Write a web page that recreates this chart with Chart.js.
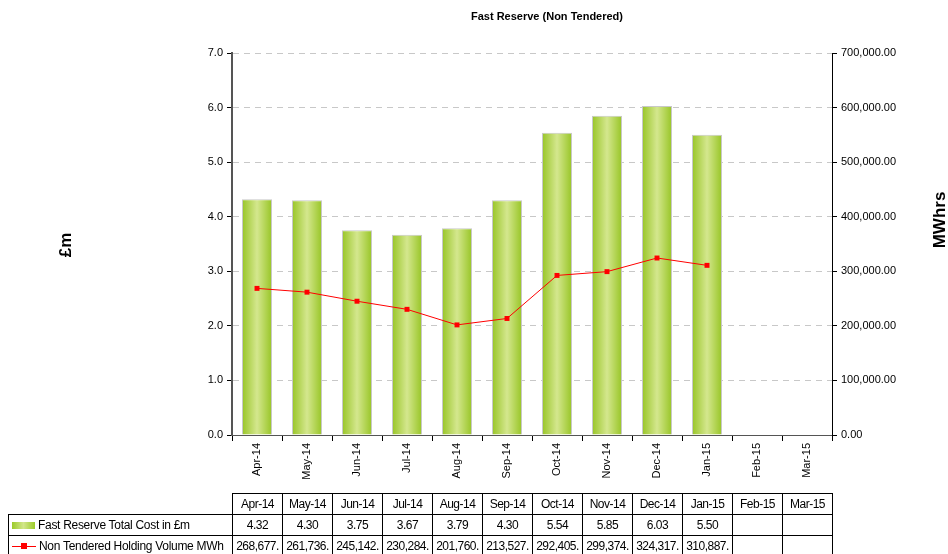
<!DOCTYPE html>
<html>
<head>
<meta charset="utf-8">
<script src="https://cdn.jsdelivr.net/npm/chart.js@4"></script>
<style>
  body { margin: 0; background: #fff; }
  #wrap { position: relative; width: 948px; height: 554px; overflow: hidden; }
  #myChart { position: absolute; left: 0; top: 0; }
  #tbl {
    position: absolute; left: 8px; top: 493px;
    border-collapse: collapse; table-layout: fixed;
    font-family: "Liberation Sans", Arial, sans-serif;
    font-size: 12px; letter-spacing: -0.5px; color: #000;
  }
  #tbl td { border: 1px solid #000; height: 20px; padding: 0; text-align: center; white-space: nowrap; overflow: hidden; }
  #tbl td.lbl { text-align: left; padding-left: 3px; letter-spacing: -0.3px; }
  #tbl td.blank { border: none; }
  .sw { display: inline-block; width: 23px; height: 7px; vertical-align: middle; margin-right: 3px;
        background: linear-gradient(to right, #9ccb2a, #d2e68a, #9ccb2a); }
  .ln { display: inline-block; position: relative; width: 24px; height: 7px; vertical-align: middle; margin-right: 3px; }
  .ln:before { content: ""; position: absolute; left: 0; right: 0; top: 3px; height: 1px; background: #ff0000; }
  .ln:after { content: ""; position: absolute; left: 9px; top: 0; width: 6px; height: 6px; background: #ff0000; }
</style>
</head>
<body>
<div id="wrap">
  <canvas id="myChart" width="948" height="554"></canvas>
  <table id="tbl"></table>
</div>
<script>
let months = ["Apr-14", "May-14", "Jun-14", "Jul-14", "Aug-14", "Sep-14", "Oct-14", "Nov-14", "Dec-14", "Jan-15", "Feb-15", "Mar-15"];
let costLabel = "Fast Reserve Total Cost in £m";
let cost = [4.32, 4.30, 3.75, 3.67, 3.79, 4.30, 5.54, 5.85, 6.03, 5.50, null, null];
let volumeLabel = "Non Tendered Holding Volume MWh";
let volume = [268677, 261736, 245142, 230284, 201760, 213527, 292405, 299374, 324317, 310887, null, null];
let chartTitle = "Fast Reserve (Non Tendered)";
let leftTitle = "£m";
let rightTitle = "MWhrs";

// table under the chart
let tbl = document.querySelector("#tbl");
let html = '<colgroup><col style="width:224px">' + months.map(() => '<col style="width:50px">').join("") + "</colgroup>";
html += '<tr><td class="blank"></td>' + months.map((m) => "<td>" + m + "</td>").join("") + "</tr>";
html += '<tr><td class="lbl"><span class="sw"></span>' + costLabel + "</td>" +
  cost.map((v) => "<td>" + (v == null ? "" : v.toFixed(2)) + "</td>").join("") + "</tr>";
html += '<tr><td class="lbl"><span class="ln"></span>' + volumeLabel + "</td>" +
  volume.map((v) => "<td>" + (v == null ? "" : v.toLocaleString("en-GB") + ".") + "</td>").join("") + "</tr>";
tbl.innerHTML = html;

function barFill(context) {
  const chart = context.chart;
  const x = chart.scales.x;
  if (!chart.chartArea || !x) return "#b5d63a";
  const cx = x.getPixelForValue(context.dataIndex);
  const half = (x.width / months.length) * 0.3;
  const g = chart.ctx.createLinearGradient(cx - half, 0, cx + half, 0);
  g.addColorStop(0, "#98c526");
  g.addColorStop(0.5, "#d4e78e");
  g.addColorStop(1, "#98c526");
  return g;
}

const titles = {
  id: "titles",
  afterDraw(chart) {
    const ctx = chart.ctx;
    ctx.save();
    ctx.fillStyle = "#000";
    ctx.textAlign = "center";
    ctx.textBaseline = "middle";
    ctx.font = "bold 11px 'Liberation Sans', Arial, sans-serif";
    ctx.fillText(chartTitle, 547, 17);
    ctx.font = "bold 17px 'Liberation Sans', Arial, sans-serif";
    ctx.translate(66, 245);
    ctx.rotate(-Math.PI / 2);
    ctx.fillText(leftTitle, 0, 0);
    ctx.restore();
    ctx.save();
    ctx.fillStyle = "#000";
    ctx.textAlign = "center";
    ctx.textBaseline = "middle";
    ctx.font = "bold 17px 'Liberation Sans', Arial, sans-serif";
    ctx.translate(940, 220);
    ctx.rotate(-Math.PI / 2);
    ctx.fillText(rightTitle, 0, 0);
    ctx.restore();
  },
};

const tickFont = { family: "'Liberation Sans', Arial, sans-serif", size: 11 };

new Chart(document.getElementById("myChart"), {
  type: "bar",
  data: {
    labels: months,
    datasets: [
      {
        type: "line",
        label: volumeLabel,
        data: volume,
        yAxisID: "y1",
        borderColor: "#ff0000",
        backgroundColor: "#ff0000",
        borderWidth: 1,
        pointStyle: "rect",
        pointRadius: 3.5,
        pointBorderWidth: 0,
        tension: 0,
        order: 0,
      },
      {
        label: costLabel,
        data: cost,
        yAxisID: "y",
        backgroundColor: barFill,
        borderColor: "#c8c8c8",
        borderWidth: 1,
        barPercentage: 0.6,
        categoryPercentage: 1,
        order: 1,
      },
    ],
  },
  options: {
    responsive: false,
    animation: false,
    layout: { padding: { top: 53, left: 0, right: 0, bottom: 0 } },
    plugins: { legend: { display: false }, tooltip: { enabled: false }, title: { display: false } },
    scales: {
      x: {
        offset: true,
        grid: { offset: true, drawOnChartArea: false, tickLength: 6, tickColor: "#000" },
        border: { color: "#555", width: 1 },
        ticks: { color: "#000", font: tickFont, minRotation: 90, maxRotation: 90, padding: 2 },
        afterFit(scale) { scale.height = 119; },
      },
      y: {
        position: "left",
        min: 0,
        max: 7,
        grid: { color: "#c8c8c8", tickColor: "#000", tickLength: 5, tickBorderDash: [], drawTicks: true },
        border: { color: "#555", width: 2, dash: [6, 5] },
        ticks: { stepSize: 1, color: "#000", font: tickFont, padding: 4, callback: (v) => v.toFixed(1) },
        afterFit(scale) { scale.width = 232; },
      },
      y1: {
        position: "right",
        min: 0,
        max: 700000,
        grid: { drawOnChartArea: false, tickColor: "#000", tickLength: 5 },
        border: { color: "#000", width: 1 },
        ticks: {
          stepSize: 100000, color: "#000", font: tickFont, padding: 4,
          callback: (v) => v.toLocaleString("en-GB", { minimumFractionDigits: 2, maximumFractionDigits: 2 }),
        },
        afterFit(scale) { scale.width = 116; },
      },
    },
  },
  plugins: [titles],
});
</script>
</body>
</html>
